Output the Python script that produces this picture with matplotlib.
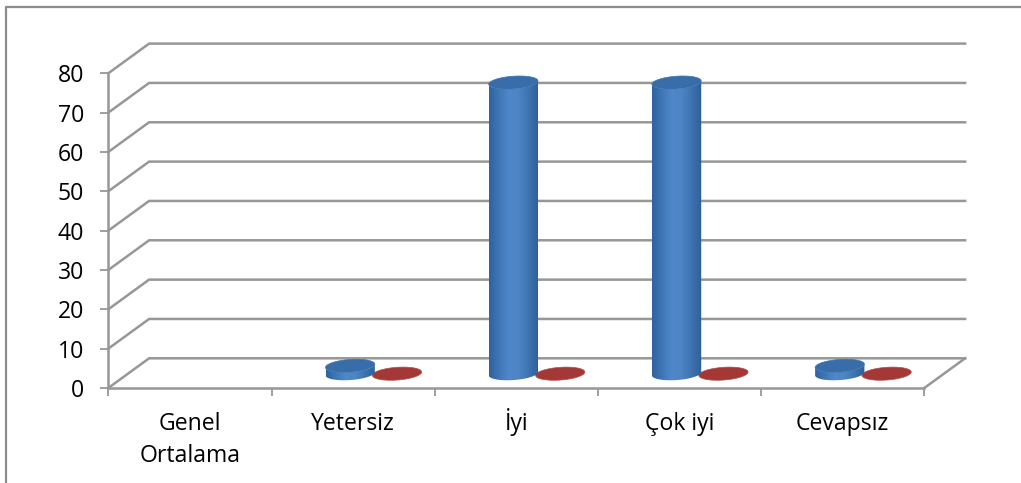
import numpy as np
import matplotlib
matplotlib.use("Agg")
import matplotlib.pyplot as plt
from matplotlib.patches import Polygon
from matplotlib.lines import Line2D
from matplotlib.colors import LinearSegmentedColormap

categories = ["Genel\nOrtalama", "Yetersiz", "İyi", "Çok iyi", "Cevapsız"]
series_blue = [np.nan, 2, 74, 74, 2]
series_red = [np.nan, 0, 0, 0, 0]
y_ticks = [0, 10, 20, 30, 40, 50, 60, 70, 80]

GRID = "#979797"
LW = 1.8
DX, DY = 0.25, 7.55         # depth of the 3D box, in category / value units
FLOOR = 3.64                # bar base centre above the front floor line
A, B, TILT = 0.151, 1.62, 0.42
OFF_BLUE, OFF_RED = -0.018, 0.269
FONT_SIZE = 16.6

plt.rcParams["font.family"] = ["Open Sans", "DejaVu Sans"]
fig = plt.figure(figsize=(10.21, 4.83), dpi=100)
ax = fig.add_axes([108.3 / 1021, (483 - 388) / 483, 816 / 1021, 314.7 / 483])
ax.set_xlim(-0.5, 4.5)
ax.set_ylim(0, 80)
ax.patch.set_alpha(0)

for s in ("top", "right"):
    ax.spines[s].set_visible(False)
for s in ("left", "bottom"):
    ax.spines[s].set_color(GRID)
    ax.spines[s].set_linewidth(LW)

ax.set_yticks(y_ticks)
ax.tick_params(axis="y", length=6, width=1.3, color=GRID, pad=11.5, labelsize=FONT_SIZE, labelcolor="black")
ax.set_xticks(np.arange(-0.5, 5, 1))
ax.set_xticklabels([])
ax.tick_params(axis="x", which="major", length=6, width=1.3, color=GRID)

# category labels: each line on a common baseline, as in the reference
for i, label in enumerate(categories):
    for j, line in enumerate(label.split("\n")):
        ax.annotate(line, xy=(i, 0), xycoords=("data", "axes fraction"),
                    xytext=(0, -(41.7 + 32 * j) * 0.72), textcoords="offset points",
                    ha="center", va="baseline", fontsize=FONT_SIZE, color="black",
                    annotation_clip=False)

x0, x1 = -0.5, 4.5
for v in y_ticks:
    ax.plot([x0, x0 + DX, x1 + DX], [v, v + DY, v + DY], color=GRID, lw=LW,
            clip_on=False, zorder=1, solid_joinstyle="miter")
ax.plot([x1, x1 + DX], [0, DY], color=GRID, lw=LW, clip_on=False, zorder=1)


def ellipse(cx, cy, t):
    return np.column_stack([cx + A * np.cos(t), cy + B * np.sin(t) + TILT * np.cos(t)])


def cylinder(cx, value, side_cmap, top_color, top_edge, z):
    base = FLOOR
    top = base + value
    if value > 0:
        lower = ellipse(cx, base, np.linspace(0, -np.pi, 60))
        upper = ellipse(cx, top, np.linspace(-np.pi, 0, 60))
        body = np.vstack([lower, upper])
        clip = Polygon(body, closed=True, transform=ax.transData, fc="none", ec="none")
        ax.add_patch(clip)
        clip.set_clip_on(False)
        grad = np.linspace(0, 1, 128).reshape(1, -1)
        im = ax.imshow(grad, extent=[cx - A, cx + A, base - B - TILT, top + B + TILT],
                       aspect="auto", cmap=side_cmap, zorder=z, origin="lower",
                       interpolation="bilinear")
        im.set_clip_path(clip)
        im.set_clip_on(True)
    ax.add_patch(Polygon(ellipse(cx, top, np.linspace(0, 2 * np.pi, 120)), closed=True,
                         fc=top_color, ec=top_edge, lw=0.5, zorder=z + 0.1, clip_on=False))


blue_side = LinearSegmentedColormap.from_list(
    "b", ["#30639f", "#3f76b6", "#4f88cb", "#4c84c4", "#3d73b0", "#2f5f96"])
red_side = LinearSegmentedColormap.from_list("r", ["#8f2a28", "#a83533", "#8f2a28"])

for i, (b, r) in enumerate(zip(series_blue, series_red)):
    if not np.isnan(r):
        cylinder(i + OFF_RED, r, red_side, "#a33836", "#b34f4c", 3)
    if not np.isnan(b):
        cylinder(i + OFF_BLUE, b, blue_side, "#386da9", "#3f74b0", 4)

ax.set_xlim(-0.5, 4.5)
ax.set_ylim(0, 80)

# outer chart frame (only the left and top edges fall inside the picture)
fig.add_artist(Line2D([5.5 / 1021, 5.5 / 1021, 1], [0, 1 - 7 / 483, 1 - 7 / 483],
                      transform=fig.transFigure, color="#8c8c8c", lw=1.6))

fig.savefig("out.png", dpi=100)
